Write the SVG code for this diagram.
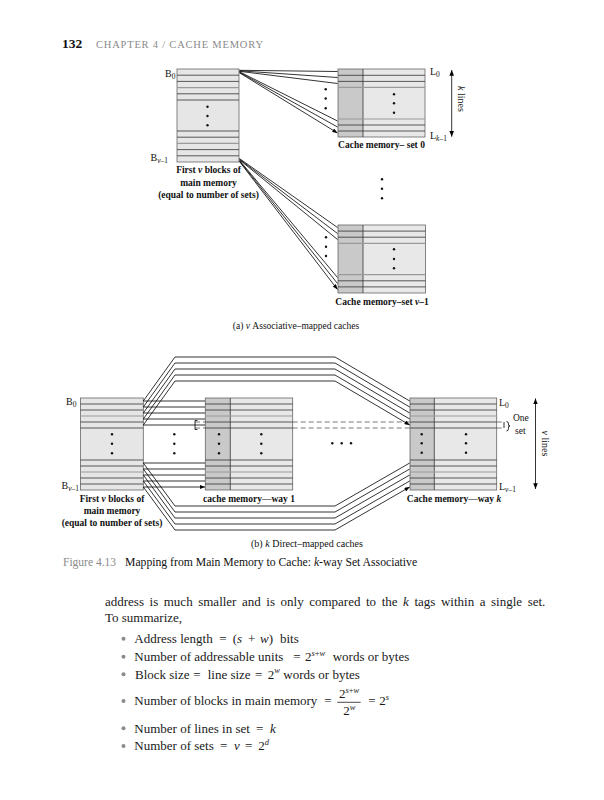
<svg xmlns="http://www.w3.org/2000/svg" width="604" height="800" viewBox="0 0 604 800">
<style>
text { font-family: "Liberation Serif", "Times New Roman", serif; fill: #111; }
.lb { font-weight: bold; font-size: 9.5px; }
.sm { font-size: 10px; }
.body { font-size: 13px; fill: #1a1a1a; }
.row { stroke: #333; stroke-width: 0.8; fill: none; }
.rowg { stroke: #9a9a9a; stroke-width: 1.2; fill: none; }
.box { stroke: #666; stroke-width: 0.8; }
.mem { fill: #e6e6e6; }
.tag { fill: #c9c9c9; }
.dat { fill: #e8e8e8; }
.conn { stroke: #000; stroke-width: 0.8; fill: none; }
.arr { marker-end: url(#ah); }
.dash { stroke: #555; stroke-width: 0.8; stroke-dasharray: 5 3; fill: none; }
.dot { fill: #111; }
.bul { fill: #8a8a8a; }
</style>
<defs>
<marker id="ah" viewBox="0 0 10 8" refX="10" refY="4" markerWidth="5.5" markerHeight="4.2" markerUnits="userSpaceOnUse" orient="auto"><path d="M0,0 L10,4 L0,8 z" fill="#000"/></marker>
<marker id="ah2" viewBox="0 0 10 8" refX="10" refY="4" markerWidth="6" markerHeight="4.6" markerUnits="userSpaceOnUse" orient="auto-start-reverse"><path d="M0,0 L10,4 L0,8 z" fill="#000"/></marker>
</defs>

<g id="header">
<text x="62" y="47.5" font-weight="bold" font-size="13.5">132</text>
<text x="96" y="47.5" font-size="10.5" style="fill:#8a8a8a" textLength="167" lengthAdjust="spacing">CHAPTER 4 / CACHE MEMORY</text>
</g>

<!-- (a) -->
<g id="mainA">
<rect x="177" y="69" width="62" height="93" class="mem box"/>
<path class="row" d="M177,75.2H239M177,81.4H239M177,93.8H239M177,100H239M177,131H239M177,137.2H239M177,149.6H239M177,155.8H239"/>
<path class="rowg" d="M177,87.6H239M177,143.4H239"/>
<circle class="dot" cx="207.5" cy="106.8" r="1.2"/><circle class="dot" cx="207.5" cy="116" r="1.2"/><circle class="dot" cx="207.5" cy="125.3" r="1.2"/>
<text x="165" y="77" class="sm">B<tspan font-size="7.5" dy="2">0</tspan></text>
<text x="150.5" y="160.5" class="sm">B<tspan font-size="7.5" dy="2"><tspan font-style="italic">ν</tspan>–1</tspan></text>
<text x="208.5" y="173" text-anchor="middle" class="lb">First <tspan font-style="italic">v</tspan> blocks of</text>
<text x="208.5" y="185.5" text-anchor="middle" class="lb">main memory</text>
<text x="208.5" y="198" text-anchor="middle" class="lb">(equal to number of sets)</text>
</g>

<g id="cacheA0">
<rect x="338" y="69" width="25" height="68" class="tag"/>
<rect x="363" y="69" width="62" height="68" class="dat"/>
<rect x="338" y="69" width="87" height="68" fill="none" class="box"/>
<path class="row" d="M338,75.3H425M338,81.4H425M338,125H425M338,131H425M363,69V137"/>
<path class="rowg" d="M338,87.4H425M338,119H425"/>
<circle class="dot" cx="394" cy="94.3" r="1.2"/><circle class="dot" cx="394" cy="103.3" r="1.2"/><circle class="dot" cx="394" cy="112.7" r="1.2"/>
<text x="430" y="75" class="sm">L<tspan font-size="7.5" dy="2">0</tspan></text>
<text x="430" y="138.5" class="sm">L<tspan font-size="7.5" dy="2"><tspan font-style="italic">k</tspan>–1</tspan></text>
<text x="381.5" y="148" text-anchor="middle" class="lb">Cache memory– set 0</text>
<path class="conn" d="M451.7,70V136.7" marker-start="url(#ah2)" marker-end="url(#ah2)"/>
<text transform="translate(457.5,99) rotate(90)" text-anchor="middle" class="sm"><tspan font-style="italic">k</tspan> lines</text>
</g>

<g id="cacheAv">
<rect x="338" y="225" width="25" height="68" class="tag"/>
<rect x="363" y="225" width="62.5" height="68" class="dat"/>
<rect x="338" y="225" width="87.5" height="68" fill="none" class="box"/>
<path class="row" d="M338,231.1H425.5M338,237.2H425.5M338,280.8H425.5M338,286.9H425.5M363,225V293"/>
<path class="rowg" d="M338,243.4H425.5M338,274.6H425.5"/>
<circle class="dot" cx="394" cy="249.3" r="1.2"/><circle class="dot" cx="394" cy="259" r="1.2"/><circle class="dot" cx="394" cy="268.3" r="1.2"/>
<text x="382" y="305" text-anchor="middle" class="lb">Cache memory–set <tspan font-style="italic">ν</tspan>–1</text>
</g>

<g id="dotsA">
<circle class="dot" cx="325.7" cy="89.3" r="1.2"/><circle class="dot" cx="325.7" cy="98.5" r="1.2"/><circle class="dot" cx="325.7" cy="108.3" r="1.2"/>
<circle class="dot" cx="382" cy="179.3" r="1.2"/><circle class="dot" cx="382" cy="188.7" r="1.2"/><circle class="dot" cx="382" cy="198.3" r="1.2"/>
<circle class="dot" cx="326" cy="237.3" r="1.2"/><circle class="dot" cx="326" cy="246.7" r="1.2"/><circle class="dot" cx="326" cy="256" r="1.2"/>
</g>

<text x="296" y="329" text-anchor="middle" font-size="9.5">(a) <tspan font-style="italic">ν</tspan> Associative–mapped caches</text>

<!-- (b) -->
<g id="mainB">
<rect x="80.5" y="398" width="62.8" height="92" class="mem box"/>
<path class="row" d="M80.5,404H143.3M80.5,410H143.3M80.5,422H143.3M80.5,428H143.3M80.5,460H143.3M80.5,466H143.3M80.5,478H143.3M80.5,484H143.3"/>
<path class="rowg" d="M80.5,416H143.3M80.5,472H143.3"/>
<circle class="dot" cx="112" cy="434.3" r="1.2"/><circle class="dot" cx="112" cy="443.7" r="1.2"/><circle class="dot" cx="112" cy="453.3" r="1.2"/>
<text x="66" y="404.5" class="sm">B<tspan font-size="7.5" dy="2">0</tspan></text>
<text x="61.5" y="489" class="sm">B<tspan font-size="7.5" dy="2"><tspan font-style="italic">ν</tspan>–1</tspan></text>
<text x="112" y="502.3" text-anchor="middle" class="lb">First <tspan font-style="italic">v</tspan> blocks of</text>
<text x="112" y="514" text-anchor="middle" class="lb">main memory</text>
<text x="112" y="525.7" text-anchor="middle" class="lb">(equal to number of sets)</text>
</g>

<g id="way1">
<rect x="205.3" y="398" width="25" height="92" class="tag"/>
<rect x="230.3" y="398" width="62.4" height="92" class="dat"/>
<rect x="205.3" y="398" width="87.4" height="92" fill="none" class="box"/>
<path class="row" d="M205.3,404H292.7M205.3,410H292.7M205.3,422H292.7M205.3,428H292.7M205.3,460H292.7M205.3,466H292.7M205.3,478H292.7M205.3,484H292.7M230.3,398V490"/>
<path class="rowg" d="M205.3,416H292.7M205.3,472H292.7"/>
<circle class="dot" cx="219" cy="434.3" r="1.2"/><circle class="dot" cx="219" cy="443.7" r="1.2"/><circle class="dot" cx="219" cy="453.3" r="1.2"/>
<circle class="dot" cx="261.3" cy="434.3" r="1.2"/><circle class="dot" cx="261.3" cy="443.7" r="1.2"/><circle class="dot" cx="261.3" cy="453.3" r="1.2"/>
<text x="249" y="501.5" text-anchor="middle" class="lb">cache memory—way 1</text>
</g>

<g id="wayk">
<rect x="410" y="398" width="24.3" height="92" class="tag"/>
<rect x="434.3" y="398" width="62.4" height="92" class="dat"/>
<rect x="410" y="398" width="86.7" height="92" fill="none" class="box"/>
<path class="row" d="M410,404H496.7M410,410H496.7M410,422H496.7M410,428H496.7M410,460H496.7M410,466H496.7M410,478H496.7M410,484H496.7M434.3,398V490"/>
<path class="rowg" d="M410,416H496.7M410,472H496.7"/>
<circle class="dot" cx="421.7" cy="434.3" r="1.2"/><circle class="dot" cx="421.7" cy="443.3" r="1.2"/><circle class="dot" cx="421.7" cy="452.7" r="1.2"/>
<circle class="dot" cx="466" cy="434.3" r="1.2"/><circle class="dot" cx="466" cy="443.3" r="1.2"/><circle class="dot" cx="466" cy="452.7" r="1.2"/>
<text x="499" y="406" class="sm">L<tspan font-size="7.5" dy="2">0</tspan></text>
<text x="499" y="490" class="sm">L<tspan font-size="7.5" dy="2"><tspan font-style="italic">ν</tspan>–1</tspan></text>
<text x="454" y="501.5" text-anchor="middle" class="lb">Cache memory—way <tspan font-style="italic">k</tspan></text>
<text x="513" y="420.5" font-size="9.5">One</text>
<text x="515" y="434" font-size="9.5">set</text>
<path class="conn" d="M535.5,398.5V489" marker-start="url(#ah2)" marker-end="url(#ah2)"/>
<text transform="translate(542,443.5) rotate(90)" text-anchor="middle" class="sm"><tspan font-style="italic">ν</tspan> lines</text>
</g>

<g id="dotsB">
<circle class="dot" cx="174.3" cy="434.3" r="1.2"/><circle class="dot" cx="174.3" cy="443.7" r="1.2"/><circle class="dot" cx="174.3" cy="453.3" r="1.2"/>
<circle class="dot" cx="332.3" cy="443.3" r="1.2"/><circle class="dot" cx="341.7" cy="443.3" r="1.2"/><circle class="dot" cx="351" cy="443.3" r="1.2"/>
</g>

<g id="oneSet">
<path class="dash" d="M195,422H205.3M195,428H205.3M292.7,422H410M292.7,428H410M496.7,422H504M496.7,428H504"/>
<path class="conn" d="M197.5,420.5H195V429.5H197.5M504,422V428"/>
<path class="conn" d="M506.5,421.5Q508.5,421.5 508.5,424 L508.5,425 Q508.5,426 510,426 Q508.5,426 508.5,427 L508.5,428.5 Q508.5,431 506.5,431"/>
</g>

<g id="connectors">
<path class="conn arr" d="M239.5,70.3L337.5,71.5M239.5,70.8L337.5,77.5M239.5,71.3L337.5,83.5M239.5,71.8L337.5,121M239.5,72.3L337.5,127M239.5,72.8L337.5,133"/>
<path class="conn arr" d="M239.5,158.6L337.5,227.5M239.5,159.2L337.5,233.5M239.5,159.8L337.5,239.5M239.5,160.4L337.5,277.5M239.5,161L337.5,283.5M239.5,161.6L337.5,289.5"/>
<path class="conn arr" d="M143.3,401H205M143.3,407H205M143.3,413H205M143.3,419H205M143.3,425H205M143.3,463H205M143.3,469H205M143.3,475H205M143.3,481H205M143.3,487H205"/>
<path class="conn arr" d="M143.3,401L175,357H335L409.7,401M143.3,407L175,363H335L409.7,407M143.3,413L175,369H335L409.7,413M143.3,419L175,375H335L409.7,419M143.3,425L175,381H335L409.7,425"/>
<path class="conn arr" d="M143.3,463L175,506H335L409.7,463M143.3,469L175,512H335L409.7,469M143.3,475L175,518H335L409.7,475M143.3,481L175,524H335L409.7,481M143.3,487L175,530H335L409.7,487"/>
</g>

<text x="307" y="547" text-anchor="middle" font-size="10">(b) <tspan font-style="italic">k</tspan> Direct–mapped caches</text>

<g id="caption">
<text x="63" y="565.5" font-size="11.5" style="fill:#8a8a8a">Figure 4.13</text>
<text x="125" y="565.5" font-size="11.7">Mapping from Main Memory to Cache: <tspan font-style="italic">k</tspan>-way Set Associative</text>
</g>

<g id="bodytext" class="body">
<text x="105" y="606" class="body" word-spacing="2.3">address is much smaller and is only compared to the <tspan font-style="italic">k</tspan> tags within a single set.</text>
<text x="105" y="621.5" class="body">To summarize,</text>

<circle class="bul" cx="123.5" cy="638.7" r="2"/>
<text y="643" class="body"><tspan x="134.3">Address length</tspan><tspan x="219.3">=</tspan><tspan x="232.7">(<tspan font-style="italic">s</tspan></tspan><tspan x="248">+</tspan><tspan x="260"><tspan font-style="italic">w</tspan>)</tspan><tspan x="280">bits</tspan></text>

<circle class="bul" cx="123.5" cy="656.7" r="2"/>
<text y="661" class="body"><tspan x="134.3">Number of addressable units</tspan><tspan x="293.3">=</tspan><tspan x="305">2</tspan><tspan font-size="8.5" font-style="italic" dy="-5.5">s</tspan><tspan font-size="8.5">+</tspan><tspan font-size="8.5" font-style="italic">w</tspan><tspan x="332.7" dy="5.5">words or bytes</tspan></text>

<circle class="bul" cx="123.5" cy="674.3" r="2"/>
<text y="678.6" class="body"><tspan x="135">Block size</tspan><tspan x="193.3">=</tspan><tspan x="207.7">line size</tspan><tspan x="255">=</tspan><tspan x="267.7">2</tspan><tspan font-size="8.5" font-style="italic" dy="-5.5">w</tspan><tspan x="283.3" dy="5.5">words or bytes</tspan></text>

<circle class="bul" cx="123.5" cy="701" r="2"/>
<text y="705.3" class="body"><tspan x="134.3">Number of blocks in main memory</tspan><tspan x="324.3">=</tspan><tspan x="368.3">=</tspan><tspan x="379.3">2</tspan><tspan font-size="8.5" font-style="italic" dy="-5.5">s</tspan></text>
<text y="697.5" class="body"><tspan x="339">2</tspan><tspan font-size="8.5" font-style="italic" dy="-5">s</tspan><tspan font-size="8.5">+</tspan><tspan font-size="8.5" font-style="italic">w</tspan></text>
<path d="M337.3,702.3H360.7" stroke="#1a1a1a" stroke-width="0.8"/>
<text y="715.3" class="body"><tspan x="343.3">2</tspan><tspan font-size="8.5" font-style="italic" dy="-5">w</tspan></text>

<circle class="bul" cx="123.5" cy="728.2" r="2"/>
<text y="732.5" class="body"><tspan x="134.3">Number of lines in set</tspan><tspan x="256">=</tspan><tspan x="270" font-style="italic">k</tspan></text>

<circle class="bul" cx="123.5" cy="746" r="2"/>
<text y="750.3" class="body"><tspan x="134.3">Number of sets</tspan><tspan x="220">=</tspan><tspan x="234" font-style="italic">ν</tspan><tspan x="245">=</tspan><tspan x="258.3">2</tspan><tspan font-size="8.5" font-style="italic" dy="-5.5">d</tspan></text>
</g>
</svg>
